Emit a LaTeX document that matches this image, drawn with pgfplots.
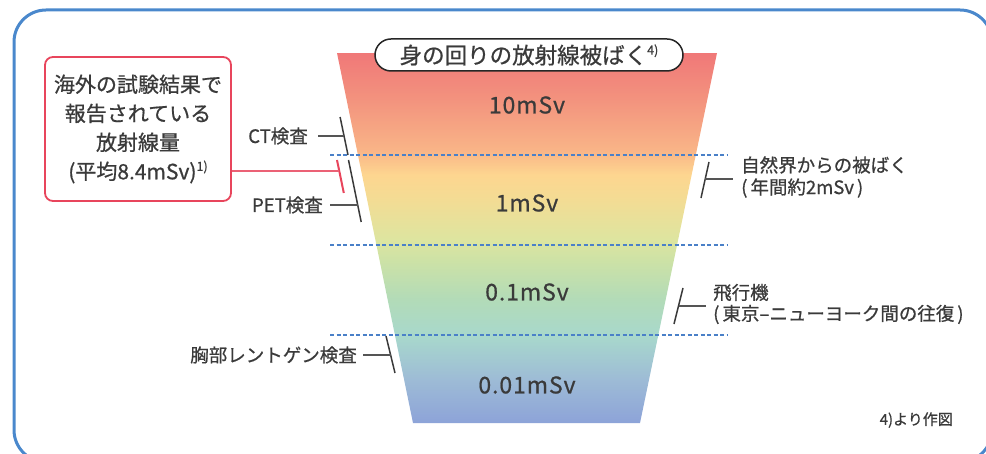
\documentclass[border=0pt]{standalone}
\usepackage{fontspec}
\usepackage{pgfplots}
\pgfplotsset{compat=1.18}
\newfontfamily\cjk{Noto Sans CJK JP}[FakeBold=0.7]
\newfontfamily\cjkband{Noto Sans CJK JP}[FakeBold=0.7, LetterSpace=4]
\newcommand\fs[1]{\fontsize{#1}{#1}\selectfont}
\definecolor{frameblue}{HTML}{4A88CC}
\definecolor{dashblue}{HTML}{4A80C8}
\definecolor{txt}{HTML}{3A3A3A}
\definecolor{conn}{HTML}{555555}
\definecolor{boxred}{HTML}{E8455C}
\definecolor{g0}{HTML}{8DA3D8}
\definecolor{g1}{HTML}{9DBBD6}
\definecolor{g2}{HTML}{A8D8CC}
\definecolor{g3}{HTML}{B2DBB8}
\definecolor{g4}{HTML}{CDE2A6}
\definecolor{g5}{HTML}{DDE5A0}
\definecolor{g6}{HTML}{F3DC94}
\definecolor{g7}{HTML}{FDD690}
\definecolor{g8}{HTML}{F9B487}
\definecolor{g9}{HTML}{F3937E}
\definecolor{g10}{HTML}{F07878}
\pgfdeclareverticalshading{funnel}{100bp}{color(0bp)=(g0); color(25bp)=(g0); color(30.81bp)=(g1); color(36.76bp)=(g2); color(41.62bp)=(g3); color(47.03bp)=(g4); color(49.73bp)=(g5); color(55.14bp)=(g6); color(58.51bp)=(g7); color(61.89bp)=(g8); color(68.65bp)=(g9); color(75bp)=(g10); color(100bp)=(g10)}
\begin{document}
\begin{tikzpicture}
\begin{axis}[name=ax, at={(0,0)}, anchor=south west,
  width=986pt, height=454pt, scale only axis, hide axis,
  xmin=0, xmax=986, ymode=log, ymin=0.004763, ymax=527.5, clip=true]
% outer frame
\draw[frameblue, line width=3pt, rounded corners=32pt] (axis cs:14,408.4) rectangle (axis cs:992,0.003881);
% funnel
\addplot[draw=none, shade, shading=funnel] coordinates {(337,135.9) (717,135.9) (640,0.01052) (413,0.01052)} -- cycle;
% decade lines
\addplot[dashblue, line width=1.2pt, dash pattern=on 4pt off 2.5pt] coordinates {(330,10) (727,10)};
\addplot[dashblue, line width=1.2pt, dash pattern=on 4pt off 2.5pt] coordinates {(330,1) (727,1)};
\addplot[dashblue, line width=1.2pt, dash pattern=on 4pt off 2.5pt] coordinates {(330,0.1) (727,0.1)};
% range brackets
\addplot[txt, line width=1.5pt] coordinates {(340.1,26.44) (348,10)};
\addplot[txt, line width=1.5pt] coordinates {(348.5,8.799) (361.2,1.801)};
\addplot[boxred, line width=2pt] coordinates {(337,8.799) (343.8,3.784)};
\addplot[txt, line width=1.5pt] coordinates {(709,8.36) (701,3.328)};
\addplot[txt, line width=1.5pt] coordinates {(683,0.3329) (674,0.1325)};
\addplot[txt, line width=1.5pt] coordinates {(386,0.09747) (395,0.03783)};
% connectors
\addplot[conn, line width=1.2pt] coordinates {(318,16.26) (344,16.26)};
\addplot[conn, line width=1.2pt] coordinates {(330,2.783) (357.7,2.783)};
\addplot[boxred!85, line width=1.5pt] coordinates {(231,6.64) (339.3,6.64)};
\addplot[conn, line width=1.2pt] coordinates {(705.2,5.412) (733,5.412)};
\addplot[conn, line width=1.2pt] coordinates {(678.5,0.2101) (706,0.2101)};
\addplot[conn, line width=1.2pt] coordinates {(363,0.05995) (390.6,0.05995)};
% labels
\node[anchor=east, inner sep=0, text=txt, font=\cjk\fs{18.5}] at (axis cs:308,16.26) {CT検査};
\node[anchor=east, inner sep=0, text=txt, font=\cjk\fs{18.5}] at (axis cs:323,2.783) {PET検査};
\node[anchor=east, inner sep=0, text=txt, font=\cjk\fs{18.5}] at (axis cs:357,0.05995) {胸部レントゲン検査};
\node[anchor=west, inner sep=0, align=left, text=txt, font=\cjk\fontsize{18.5}{22}\selectfont] at (axis cs:741,5.695) {自然界からの被ばく\\(\kern3pt年間約2mSv\kern3pt)};
\node[anchor=west, inner sep=0, align=left, text=txt, font=\cjk\fontsize{18.5}{21}\selectfont] at (axis cs:713,0.2211) {飛行機\\(\kern3pt東京–ニューヨーク間の往復\kern3pt)};
% band values
\node[text=txt, font=\cjkband\fs{23}] at (axis cs:527,35.94) {10mSv};
\node[text=txt, font=\cjkband\fs{23}] at (axis cs:527,2.929) {1mSv};
\node[text=txt, font=\cjkband\fs{23}] at (axis cs:527,0.3005) {0.1mSv};
\node[text=txt, font=\cjkband\fs{23}] at (axis cs:527,0.02783) {0.01mSv};
% title
\node[draw=black!85, fill=white, line width=1.5pt, rounded corners=16pt, minimum width=308pt, minimum height=32pt, inner sep=0, text=txt, font=\cjk\fs{22.5}] at (axis cs:529,129.2) {身の回りの放射線被ばく\raisebox{0.4em}{\fs{12.5}4)}};
% red box
\node[draw=boxred, fill=white, line width=1.8pt, rounded corners=8pt, minimum width=186pt, minimum height=144pt, inner sep=0, align=center, text=txt, font=\cjk\fontsize{21}{29}\selectfont] at (axis cs:138,19.45) {海外の試験結果で\\報告されている\\放射線量\\(平均8.4mSv)\raisebox{0.4em}{\fs{12.5}1)}};
% footnote
\node[anchor=east, inner sep=0, text=txt, font=\cjk\fs{15}] at (axis cs:953,0.01136) {4)より作図};
\end{axis}
\pgfresetboundingbox
\path[use as bounding box] (ax.south west) rectangle (ax.north east);
\end{tikzpicture}
\end{document}
